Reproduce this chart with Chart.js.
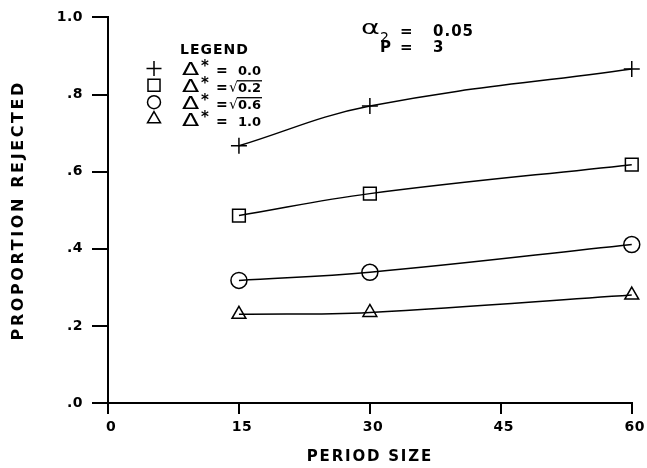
<!DOCTYPE html>
<html><head><meta charset="utf-8">
<script src="https://cdn.jsdelivr.net/npm/chart.js@4/dist/chart.umd.min.js"></script>
<style>html,body{margin:0;padding:0;background:#fff;} #wrap{width:647px;height:468px;}</style>
</head><body><div id="wrap"><canvas id="c" width="647" height="468"></canvas></div>
<script>
// ---- data ----
const periodSizes = [15, 30, 60];
const seriesLabels = ['Δ* = 0.0', 'Δ* = √0.2', 'Δ* = √0.6', 'Δ* = 1.0'];
const legendValues = ['0.0', '0.2', '0.6', '1.0'];
const legendHasRoot = [false, true, true, false];
const rejectedDelta00 = [0.667, 0.770, 0.866];
const rejectedDeltaSqrt02 = [0.486, 0.543, 0.618];
const rejectedDeltaSqrt06 = [0.318, 0.339, 0.411];
const rejectedDelta10 = [0.230, 0.235, 0.280];
const xTickValues = [0, 15, 30, 45, 60];
const yTickValues = [0, 0.2, 0.4, 0.6, 0.8, 1.0];
const yTickLabels = ['.0', '.2', '.4', '.6', '.8', '1.0'];
const alphaValue = '0.05';
const pValue = '3';

const FONT = '"DejaVu Sans"';
const seriesValues = [rejectedDelta00, rejectedDeltaSqrt02, rejectedDeltaSqrt06, rejectedDelta10];
const styles = [
  {pointStyle: 'cross', radius: 8, legendRadius: 7.5},
  {pointStyle: 'rect', radius: 9, legendRadius: 8.5},
  {pointStyle: 'circle', radius: 8, legendRadius: 6.5},
  {pointStyle: 'triangle', radius: 8, legendRadius: 7.5}
];

const datasets = seriesValues.map((vals, i) => ({
  label: seriesLabels[i],
  data: periodSizes.map((x, j) => ({x: x, y: vals[j]})),
  borderColor: '#000',
  borderWidth: 1.5,
  backgroundColor: 'rgba(0,0,0,0)',
  pointStyle: styles[i].pointStyle,
  pointRadius: styles[i].radius,
  pointBorderColor: '#000',
  pointBackgroundColor: 'rgba(0,0,0,0)',
  pointBorderWidth: 1.5,
  tension: 0.4,
  fill: false,
  clip: false
}));

function spacedTitle(spacing) {
  return function (scale) {
    if (!scale.__spaced) {
      const orig = scale.drawTitle;
      scale.drawTitle = function () {
        const c = this.ctx;
        const prev = c.letterSpacing;
        c.letterSpacing = spacing;
        orig.call(this);
        c.letterSpacing = prev;
      };
      scale.__spaced = true;
    }
  };
}

const annotPlugin = {
  id: 'annot',
  beforeUpdate(chart) { chart.ctx.letterSpacing = '0.5px'; },
  beforeDraw(chart) { chart.ctx.letterSpacing = '0.5px'; },
  afterDraw(chart) {
    const ctx = chart.ctx;
    const a = chart.chartArea;
    const ox = a.left, oy = a.top;
    ctx.save();
    ctx.fillStyle = '#000';
    ctx.strokeStyle = '#000';
    ctx.textBaseline = 'alphabetic';
    ctx.textAlign = 'left';

    // legend title
    ctx.letterSpacing = '1px';
    ctx.font = 'bold 14px ' + FONT;
    ctx.fillText('LEGEND', ox + 72, oy + 37);

    chart.data.datasets.forEach((ds, i) => {
      const cy = oy + 51 + i * 16.9;
      const base = cy + 7;
      // marker
      ctx.save();
      ctx.lineWidth = 1.5;
      ctx.strokeStyle = '#000';
      ctx.fillStyle = 'rgba(0,0,0,0)';
      Chart.helpers.drawPoint(ctx, {pointStyle: ds.pointStyle, radius: styles[i].legendRadius, borderWidth: 1.5, rotation: 0}, ox + 46, cy);
      ctx.restore();
      // Δ*
      ctx.letterSpacing = '0px';
      ctx.save();
      ctx.translate(ox + 74, base);
      ctx.scale(1.4, 1);
      ctx.font = '18px ' + FONT;
      ctx.fillText('Δ', 0, 0);
      ctx.restore();
      ctx.font = 'bold 15px ' + FONT;
      ctx.fillText('*', ox + 93, cy + 3);
      ctx.font = 'bold 14px ' + FONT;
      ctx.fillText('=', ox + 108, base);
      // value
      ctx.font = 'bold 13px ' + FONT;
      ctx.textAlign = 'right';
      const right = ox + 153;
      const val = legendValues[i];
      ctx.fillText(val, right, base);
      const w = ctx.measureText(val).width;
      if (legendHasRoot[i]) {
        const rootX = right - w;
        ctx.font = '14px ' + FONT;
        ctx.fillText('√', rootX, base);
        const m = ctx.measureText('√');
        const top = base - m.actualBoundingBoxAscent;
        ctx.beginPath();
        ctx.lineWidth = 1.3;
        ctx.moveTo(rootX - 1, top + 0.5);
        ctx.lineTo(right + 1, top + 0.5);
        ctx.stroke();
      }
      ctx.textAlign = 'left';
    });

    // alpha / P annotation
    ctx.letterSpacing = '0px';
    ctx.save();
    ctx.translate(ox + 253, oy + 17);
    ctx.scale(1.5, 1);
    ctx.font = '19px ' + FONT;
    ctx.fillText('α', 0, 0);
    ctx.restore();
    ctx.font = '14px ' + FONT;
    ctx.fillText('2', ox + 272, oy + 25);
    ctx.font = 'bold 15px ' + FONT;
    ctx.letterSpacing = '1px';
    ctx.fillText('=', ox + 292, oy + 19);
    ctx.fillText(alphaValue, ox + 325, oy + 19);
    ctx.fillText('P', ox + 272, oy + 35);
    ctx.fillText('=', ox + 292, oy + 35);
    ctx.fillText(pValue, ox + 325, oy + 35);
    ctx.restore();
  }
};

new Chart(document.getElementById('c'), {
  type: 'line',
  data: {datasets: datasets},
  plugins: [annotPlugin],
  options: {
    responsive: false,
    animation: false,
    devicePixelRatio: 1,
    layout: {padding: {left: 0, top: 16, right: 13, bottom: 0}},
    plugins: {legend: {display: false}, tooltip: {enabled: false}, title: {display: false}},
    scales: {
      x: {
        type: 'linear',
        position: 'bottom',
        min: 0, max: 60,
        afterBuildTicks: (s) => { s.ticks = xTickValues.map(v => ({value: v})); },
        afterFit: (s) => { s.height = 65; spacedTitle('1.8px')(s); },
        grid: {display: true, drawOnChartArea: false, drawTicks: true, tickLength: 11, tickColor: '#000', tickWidth: 2, color: '#000', lineWidth: 2},
        border: {display: true, color: '#000', width: 2},
        ticks: {color: '#000', font: {family: FONT, size: 14, weight: 'bold'}, padding: 5, labelOffset: 3, maxRotation: 0, autoSkip: false,
          callback: (v) => String(v)},
        title: {display: true, text: 'PERIOD SIZE', color: '#000', font: {family: FONT, size: 15, weight: 'bold'}, padding: {top: 0, bottom: 2}}
      },
      y: {
        type: 'linear',
        position: 'left',
        min: 0, max: 1,
        afterBuildTicks: (s) => { s.ticks = yTickValues.map(v => ({value: v})); },
        afterFit: (s) => { s.width = 108; spacedTitle('2.6px')(s); },
        grid: {display: true, drawOnChartArea: false, drawTicks: true, tickLength: 16, tickColor: '#000', tickWidth: 2, color: '#000', lineWidth: 2},
        border: {display: true, color: '#000', width: 2},
        ticks: {color: '#000', font: {family: FONT, size: 14, weight: 'bold'}, padding: 9, autoSkip: false,
          callback: (v) => { const k = yTickValues.findIndex(t => Math.abs(t - v) < 1e-9); return k >= 0 ? yTickLabels[k] : ''; }},
        title: {display: true, text: 'PROPORTION REJECTED', color: '#000', font: {family: FONT, size: 16, weight: 'bold'}, padding: {top: 9, bottom: 0}}
      }
    }
  }
});
</script>
</body></html>
